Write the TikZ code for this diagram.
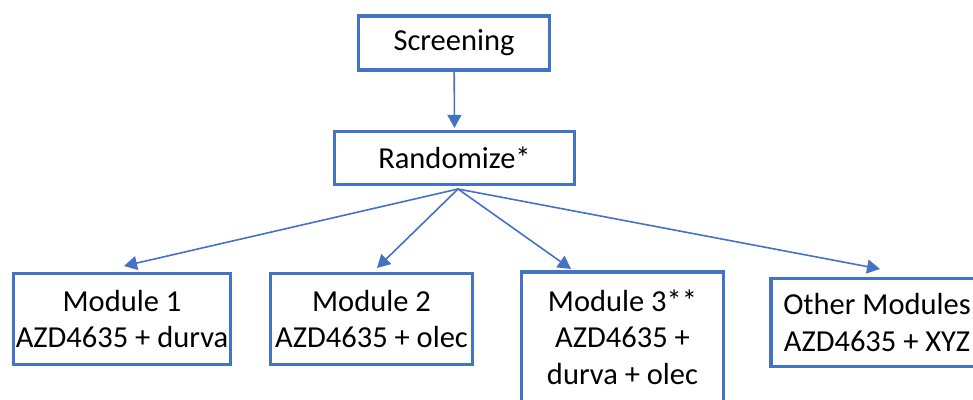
\documentclass[tikz,border=0pt]{standalone}
\usepackage{fontspec}
\setmainfont{Carlito}
\usetikzlibrary{arrows.meta}
\definecolor{boxblue}{HTML}{4472C4}
\begin{document}
\begin{tikzpicture}[x=1pt,y=-1pt,
  box/.style={draw=boxblue, line width=3.2pt, inner sep=0pt, fill=white},
  lbl/.style={font=\fontsize{30.5}{36.5}\selectfont, align=center, inner sep=0pt},
  arr/.style={draw=boxblue, line width=1.6pt, -{Triangle[length=13pt,width=14pt]}}]
\useasboundingbox (0,0) rectangle (973,399);
\clip (0,0) rectangle (973,399);
\node[box, lbl, minimum width=191, minimum height=54] (s) at (454,43) {Screening};
\node[box, lbl, minimum width=240, minimum height=53] (r) at (454.5,158) {Randomize*};
\node[box, lbl, minimum width=217, minimum height=91] (m1) at (122,319) {Module 1\\AZD4635 + durva};
\node[box, lbl, minimum width=202, minimum height=91] (m2) at (371.5,319) {Module 2\\AZD4635 + olec};
\node[box, minimum width=202, minimum height=160] (m3) at (622.5,352) {};
\node[lbl] (m3t) at (622.5,337) {Module 3**\\AZD4635 +\\durva + olec};
\node[box, lbl, minimum width=212, minimum height=88] (m4) at (877,322.5) {Other Modules\\AZD4635 + XYZ};
\coordinate (fan) at (458,189);
\coordinate (t1) at (124,266);
\coordinate (t2) at (377,268);
\coordinate (t3) at (571,269);
\coordinate (t4) at (880,269);
\draw[arr] (s) -- ([yshift=2pt]r.north);
\draw[arr] (fan) -- (t1);
\draw[arr] (fan) -- (t2);
\draw[arr] (fan) -- (t3);
\draw[arr] (fan) -- (t4);
\end{tikzpicture}
\end{document}
